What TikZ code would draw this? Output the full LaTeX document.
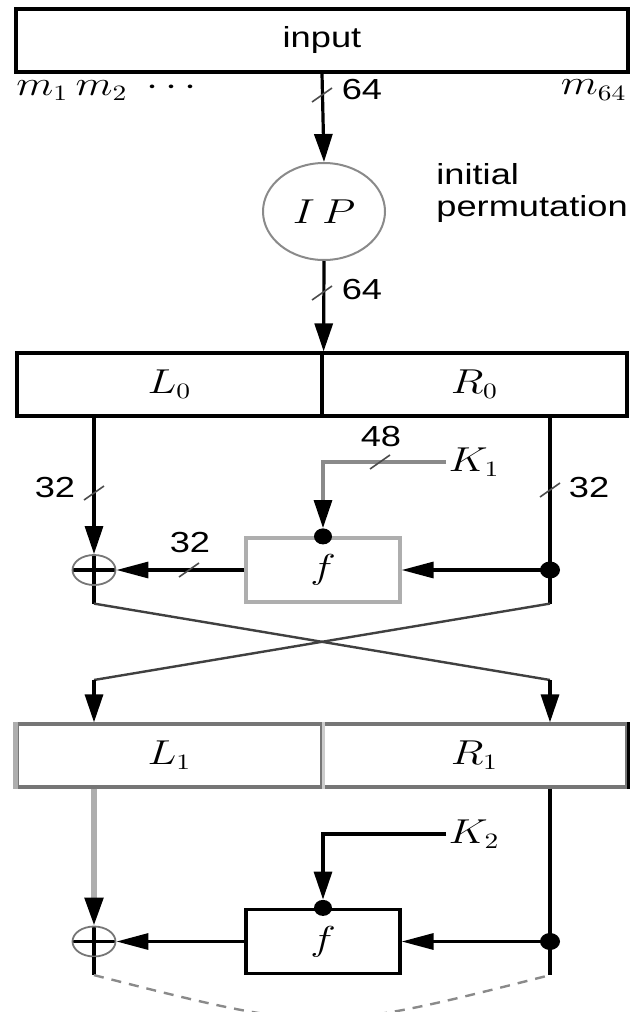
\documentclass[tikz,border=0pt]{standalone}
\usepackage{fontspec}
\setsansfont{Liberation Sans}
\usepackage{graphicx}
\usepackage{tikz}
\usetikzlibrary{arrows.meta,positioning,shapes.geometric,calc}
\definecolor{wiregray}{HTML}{8A8A8A}
\definecolor{lightwire}{HTML}{AEAEAE}
\definecolor{boxgray}{HTML}{767676}

% the drawing is wider than it is tall: stretch the lettering to match
\newcommand{\wide}[1]{\scalebox{1.25}[1]{#1}}
% small bus-width mark across a wire
\newcommand{\busmark}[1]{\draw[slashmark] ($(#1)+(-10,7)$) -- ($(#1)+(10,-7)$);}

\begin{document}
\begin{tikzpicture}[
  x=0.5pt, y=-0.5pt,
  >={Triangle[length=14pt,width=9pt]},
  font=\fontsize{16}{18}\selectfont,
  hz/.style={-{Triangle[length=16pt,width=8pt]}},
  regbox/.style={
    draw,
    line width=1.6pt,
    minimum width=152.5pt,
    minimum height=31.5pt,
    inner sep=0pt
  },
  fbox/.style={
    draw,
    line width=1.6pt,
    minimum width=77pt,
    minimum height=32pt,
    inner sep=0pt
  },
  xorgate/.style={
    ellipse,
    draw=boxgray,
    line width=0.9pt,
    minimum width=21.5pt,
    minimum height=15pt,
    inner sep=0pt,
    path picture={
      \draw[line width=1.8pt, black]
        (path picture bounding box.north) -- (path picture bounding box.south)
        (path picture bounding box.west) -- (path picture bounding box.east);
    }
  },
  joint/.style={
    ellipse,
    fill=black,
    minimum width=10pt,
    minimum height=8.5pt,
    inner sep=0pt
  },
  wire/.style={line width=1.6pt},
  crosswire/.style={line width=1.2pt, draw=black!75},
  slashmark/.style={line width=0.8pt, draw=black!70},
  busnum/.style={font=\sffamily\fontsize{14.5}{16}\selectfont, inner sep=1pt},
  mathlbl/.style={font=\fontsize{16}{18}\selectfont, inner sep=1pt}
]
  \useasboundingbox (0,0) rectangle (630,1012);

  % --- input and initial permutation ---
  \node[draw, line width=1.6pt, minimum width=306pt, minimum height=31.5pt, inner sep=0pt,
        busnum] (input) at (322,40.5) {\wide{input}};
  \node[mathlbl, anchor=west] (mfirst) at (14,90) {\wide{$m_1\,m_2\;\cdots$}};
  \node[mathlbl, anchor=east] (mlast) at (629,90) {\wide{$m_{64}$}};

  \node[ellipse, draw=wiregray, line width=1pt, minimum width=61pt, minimum height=48.5pt,
        inner sep=0pt, mathlbl] (ip) at (324,211.5) {\wide{$I\,P$}};
  \node[busnum, anchor=west, align=left, font=\sffamily\fontsize{14.5}{16}\selectfont]
    (iplabel) at (434,193) {\wide{initial}\\\wide{permutation}};

  % --- round 1 ---
  \node[regbox, mathlbl] (L0) at (169.5,384.5) {\wide{$L_0$}};
  \node[regbox, mathlbl] (R0) at (474.5,384.5) {\wide{$R_0$}};

  \node[xorgate] (xor1) at (94,570) {};
  \node[joint] (dot1) at (550,570) {};
  \node[fbox, draw=lightwire, mathlbl] (f1) at (323,570) {\wide{$f$}};
  \node[joint, minimum width=9pt, minimum height=8pt] (fdot1) at (f1.north) {};
  \node[mathlbl] (K1) at (474,462) {\wide{$K_1$}};

  % --- round 2 ---
  \node[regbox, draw=boxgray, mathlbl] (L1) at (169.5,755.5) {\wide{$L_1$}};
  \node[regbox, draw=boxgray, mathlbl] (R1) at (474.5,755.5) {\wide{$R_1$}};
  \draw[lightwire, line width=2.6pt] (L1.north west) -- (L1.south west);
  \draw[black!20, line width=1.6pt] (L1.north east) -- (L1.south east);
  \draw[black, line width=1.6pt] (R1.north east) -- (R1.south east);

  \node[xorgate] (xor2) at (94,941.5) {};
  \node[joint] (dot2) at (550,941.5) {};
  \node[fbox, mathlbl] (f2) at (323,941.5) {\wide{$f$}};
  \node[joint, minimum width=9pt, minimum height=8pt] (fdot2) at (f2.north) {};
  \node[mathlbl] (K2) at (474,834) {\wide{$K_2$}};

  % crossing points of the swap
  \coordinate (swapL) at (94,680);
  \coordinate (swapR) at (550,680);

  % --- wires: input to round 1 ---
  \draw[wire, ->] (input.south) -- (ip.north);
  \busmark{322,95}
  \node[busnum] (w64a) at (362,90) {\wide{64}};
  \draw[wire, ->] (ip.south) -- (L0.north east);
  \busmark{322,293}
  \node[busnum] (w64b) at (362,290) {\wide{64}};

  % --- wires: round 1 ---
  \draw[wire, ->] (xor1 |- L0.south) -- (xor1.north);
  \busmark{94,493}
  \node[busnum] (w32l) at (55,488) {\wide{32}};
  \draw[wire] (dot1 |- R0.south) -- (dot1.center);
  \busmark{550,490}
  \node[busnum] (w32r) at (589,488) {\wide{32}};
  \draw[wiregray, line width=1.6pt, -{Triangle[length=14pt,width=9pt,color=black]}]
    (K1.west) -| (fdot1.north);
  \busmark{380,462}
  \node[busnum] (w48) at (381,437) {\wide{48}};
  \draw[wire, hz] (dot1.center) -- (f1.east);
  \draw[wire, hz] (f1.west) -- (xor1.east);
  \busmark{189,570}
  \node[busnum] (w32f) at (190,543) {\wide{32}};

  % swap of the halves
  \draw[wire] (xor1.south) -- (xor1 |- f1.south);
  \draw[wire] (dot1.center) -- (dot1 |- f1.south);
  \draw[crosswire] (xor1 |- f1.south) -- (swapR);
  \draw[crosswire] (dot1 |- f1.south) -- (swapL);
  \draw[wire, ->] (swapL) -- (xor1 |- L1.north);
  \draw[wire, ->] (swapR) -- (dot1 |- R1.north);

  % --- wires: round 2 ---
  \draw[lightwire, line width=2.6pt, -{Triangle[length=14pt,width=9pt,color=black]}]
    (xor2 |- L1.south) -- (xor2.north);
  \draw[wire] (dot2 |- R1.south) -- (dot2.center);
  \draw[wire, ->] (K2.west) -| (fdot2.north);
  \draw[wire, hz] (dot2.center) -- (f2.east);
  \draw[wire, hz] (f2.west) -- (xor2.east);
  \draw[wire] (xor2.south) -- (xor2 |- f2.south);
  \draw[wire] (dot2.center) -- (dot2 |- f2.south);
  \draw[wiregray, line width=1.2pt, dash pattern=on 5pt off 4pt]
    (xor2 |- f2.south) .. controls (322,1033) .. (dot2 |- f2.south);

\end{tikzpicture}
\end{document}
